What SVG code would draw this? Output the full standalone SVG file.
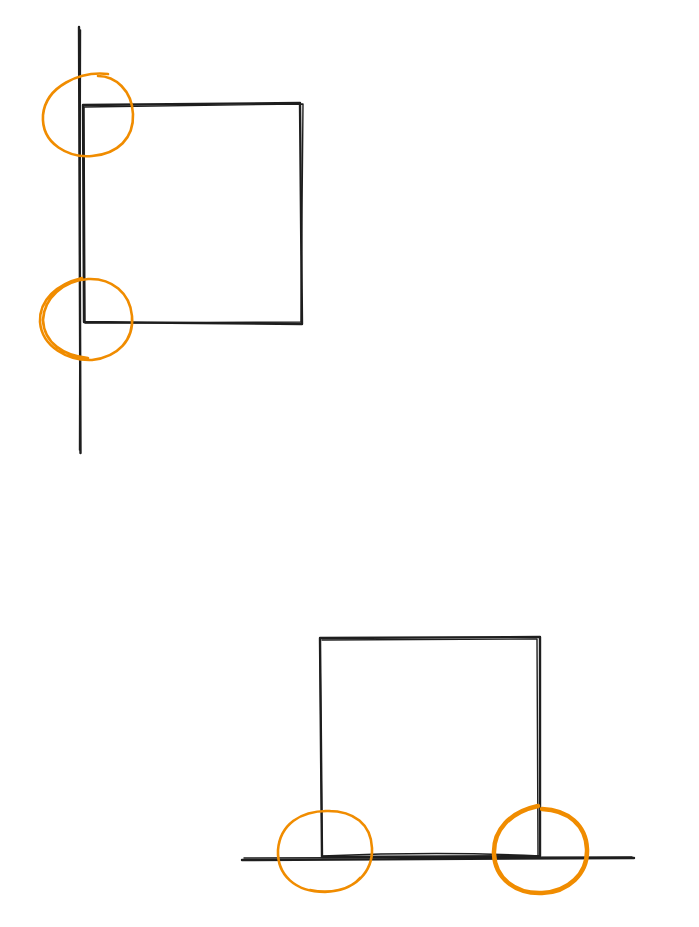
<svg xmlns="http://www.w3.org/2000/svg" width="699" height="927" viewBox="0 0 699 927">
<style>
.ink{fill:none;stroke:#1e1e1e;stroke-width:2.4;stroke-linecap:round;stroke-linejoin:round}
.ink2{fill:none;stroke:#1e1e1e;stroke-width:1.4;stroke-linecap:round;stroke-linejoin:round}
.mark{fill:none;stroke:#f08c00;stroke-width:2.6;stroke-linecap:round}
.markb{fill:none;stroke:#f08c00;stroke-width:4.5;stroke-linecap:round}
</style>
<rect width="699" height="927" fill="#ffffff"/>
<g id="top-scene">
  <g id="wall-vertical">
    <path class="ink" d="M79 27 L80.5 453"/>
    <path class="ink2" d="M80.5 30 L79.5 450"/>
  </g>
  <g id="square-top">
    <path class="ink" d="M83 105 L300 103 L302 324 L84 322 Z"/>
    <path class="ink2" d="M84 107 L303 104 L301 322 L85 323 L84 107"/>
  </g>
  <g id="circle-top-1">
    <path class="mark" d="M108 74 C80 71 46 86 43 115 C41 145 70 158 92 156 C118 154 134 138 133 114 C132 90 115 76 98 76"/>
  </g>
  <g id="circle-top-2">
    <path class="mark" d="M82 278 C57 284 39 300 40 322 C42 347 68 361 92 360 C118 357 134 340 132 316 C130 293 112 278 88 279 C63 281 44 298 43 320 C44 343 64 356 88 358"/>
  </g>
</g>
<g id="bottom-scene">
  <g id="floor-horizontal">
    <path class="ink" d="M242 860 L634 858"/>
    <path class="ink2" d="M244 858 L632 857"/>
    <path class="ink2" d="M322 856 C420 852 480 853 540 856"/>
  </g>
  <g id="square-bottom">
    <path class="ink" d="M320 638 L540 637 L540 856 L322 857 Z"/>
    <path class="ink2" d="M322 640 L537 639 L538 855 M320 640 L322 855"/>
  </g>
  <g id="circle-bottom-1">
    <path class="mark" d="M330 811 C300 810 280 825 278 850 C277 875 295 892 325 892 C355 891 373 872 372 848 C371 825 355 810 325 811 M360 878 C350 890 330 894 310 890"/>
  </g>
  <g id="circle-bottom-2">
    <path class="markb" d="M538 806 C510 812 493 830 494 854 C495 878 515 894 542 893 C568 892 588 874 587 849 C586 825 568 810 542 809"/>
  </g>
</g>
</svg>
